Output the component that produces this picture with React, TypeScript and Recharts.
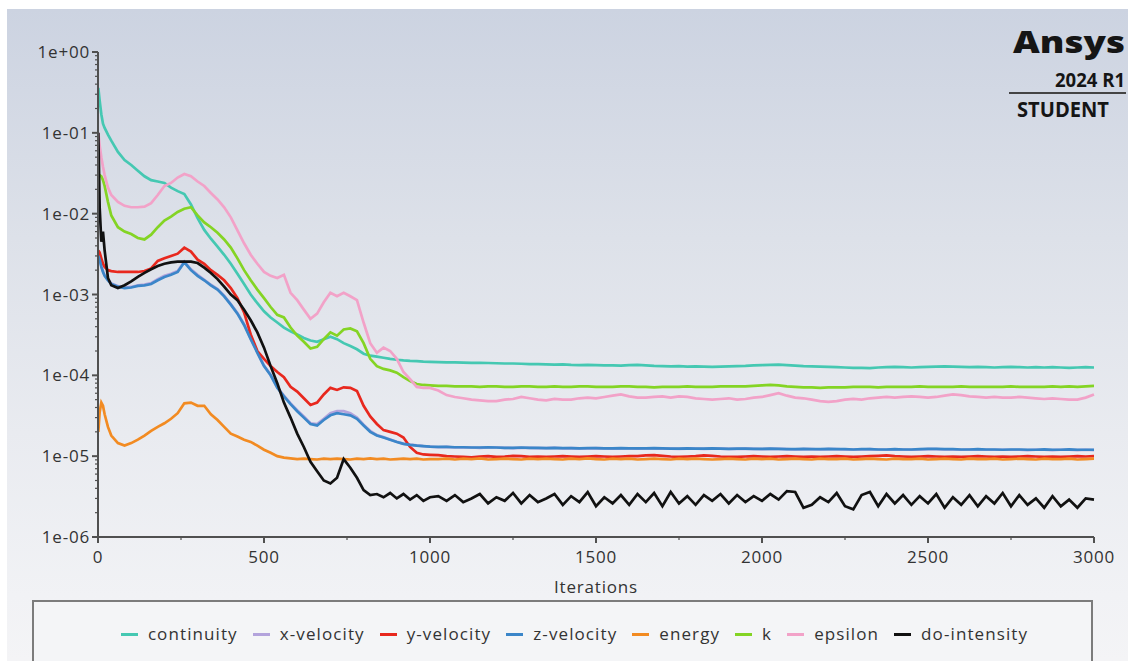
import { Line, LineChart, XAxis, YAxis } from "recharts";

// iteration numbers where the residuals were sampled
const iterations = [
  1, 5, 10, 15, 20, 30, 40,
  60, 80, 100, 120, 140, 160, 180, 200, 220, 240,
  260, 280, 300, 320, 340, 360, 380, 400, 420, 440,
  460, 480, 500, 520, 540, 560, 580, 600, 620, 640,
  660, 680, 700, 720, 740, 760, 780, 800, 820, 840,
  860, 880, 900, 920, 940, 960, 980, 1000,
  1025, 1050, 1075, 1100, 1125, 1150, 1175, 1200, 1225, 1250, 1275, 1300,
  1325, 1350, 1375, 1400, 1425, 1450, 1475, 1500, 1525, 1550, 1575, 1600,
  1625, 1650, 1675, 1700, 1725, 1750, 1775, 1800, 1825, 1850, 1875, 1900,
  1925, 1950, 1975, 2000, 2025, 2050, 2075, 2100, 2125, 2150, 2175, 2200,
  2225, 2250, 2275, 2300, 2325, 2350, 2375, 2400, 2425, 2450, 2475, 2500,
  2525, 2550, 2575, 2600, 2625, 2650, 2675, 2700, 2725, 2750, 2775, 2800,
  2825, 2850, 2875, 2900, 2925, 2950, 2975, 3000,
];

const continuity = [
  3.6e-1, 2.5e-1, 1.7e-1, 1.3e-1, 1.15e-1, 9.5e-2, 8.0e-2,
  5.8e-2, 4.6e-2, 4.0e-2, 3.4e-2, 2.9e-2, 2.6e-2, 2.5e-2, 2.4e-2, 2.1e-2, 1.9e-2,
  1.75e-2, 1.3e-2, 8.8e-3, 6.3e-3, 4.9e-3, 3.9e-3, 3.1e-3, 2.4e-3, 1.8e-3, 1.35e-3,
  1.0e-3, 7.8e-4, 6.2e-4, 5.2e-4, 4.5e-4, 3.9e-4, 3.5e-4, 3.2e-4, 2.9e-4, 2.7e-4,
  2.6e-4, 2.8e-4, 3.0e-4, 2.8e-4, 2.5e-4, 2.3e-4, 2.1e-4, 1.85e-4, 1.75e-4, 1.7e-4,
  1.65e-4, 1.6e-4, 1.56e-4, 1.53e-4, 1.51e-4, 1.5e-4, 1.48e-4, 1.47e-4,
  1.46e-4, 1.45e-4, 1.45e-4, 1.44e-4, 1.43e-4, 1.43e-4, 1.42e-4, 1.41e-4, 1.4e-4, 1.4e-4, 1.39e-4, 1.38e-4,
  1.38e-4, 1.37e-4, 1.36e-4, 1.37e-4, 1.35e-4, 1.34e-4, 1.35e-4, 1.34e-4, 1.33e-4, 1.33e-4, 1.32e-4, 1.34e-4,
  1.35e-4, 1.33e-4, 1.31e-4, 1.3e-4, 1.29e-4, 1.3e-4, 1.28e-4, 1.29e-4, 1.28e-4, 1.27e-4, 1.28e-4, 1.29e-4,
  1.3e-4, 1.31e-4, 1.33e-4, 1.34e-4, 1.35e-4, 1.36e-4, 1.34e-4, 1.32e-4, 1.3e-4, 1.29e-4, 1.28e-4, 1.27e-4,
  1.26e-4, 1.25e-4, 1.24e-4, 1.24e-4, 1.23e-4, 1.25e-4, 1.26e-4, 1.27e-4, 1.26e-4, 1.25e-4, 1.26e-4, 1.27e-4,
  1.28e-4, 1.29e-4, 1.28e-4, 1.27e-4, 1.26e-4, 1.27e-4, 1.26e-4, 1.25e-4, 1.26e-4, 1.27e-4, 1.26e-4, 1.25e-4,
  1.26e-4, 1.25e-4, 1.26e-4, 1.25e-4, 1.24e-4, 1.25e-4, 1.26e-4, 1.25e-4,
];

const xVelocity = [
  3.1e-3, 2.75e-3, 2.25e-3, 1.95e-3, 1.72e-3, 1.52e-3, 1.37e-3,
  1.27e-3, 1.22e-3, 1.24e-3, 1.3e-3, 1.33e-3, 1.38e-3, 1.55e-3, 1.7e-3, 1.8e-3, 1.95e-3,
  2.55e-3, 2.05e-3, 1.75e-3, 1.52e-3, 1.32e-3, 1.17e-3, 9.7e-4, 7.6e-4, 5.9e-4, 4.3e-4,
  2.85e-4, 1.95e-4, 1.32e-4, 1.02e-4, 7.1e-5, 5.6e-5, 4.5e-5, 3.7e-5, 3.1e-5, 2.55e-5,
  2.5e-5, 2.9e-5, 3.4e-5, 3.6e-5, 3.6e-5, 3.4e-5, 3.0e-5, 2.45e-5, 2.05e-5, 1.82e-5,
  1.72e-5, 1.61e-5, 1.51e-5, 1.43e-5, 1.39e-5, 1.36e-5, 1.33e-5, 1.31e-5,
  1.29e-5, 1.3e-5, 1.28e-5, 1.29e-5, 1.28e-5, 1.27e-5, 1.28e-5, 1.28e-5, 1.27e-5, 1.26e-5, 1.27e-5, 1.27e-5,
  1.26e-5, 1.26e-5, 1.27e-5, 1.25e-5, 1.26e-5, 1.25e-5, 1.25e-5, 1.26e-5, 1.25e-5, 1.24e-5, 1.25e-5, 1.25e-5,
  1.24e-5, 1.25e-5, 1.25e-5, 1.24e-5, 1.24e-5, 1.23e-5, 1.24e-5, 1.24e-5, 1.23e-5, 1.24e-5, 1.24e-5, 1.23e-5,
  1.23e-5, 1.24e-5, 1.23e-5, 1.22e-5, 1.23e-5, 1.23e-5, 1.22e-5, 1.21e-5, 1.22e-5, 1.22e-5, 1.21e-5, 1.22e-5,
  1.22e-5, 1.21e-5, 1.21e-5, 1.21e-5, 1.22e-5, 1.21e-5, 1.2e-5, 1.21e-5, 1.21e-5, 1.2e-5, 1.21e-5, 1.22e-5,
  1.22e-5, 1.21e-5, 1.21e-5, 1.2e-5, 1.21e-5, 1.21e-5, 1.2e-5, 1.2e-5, 1.2e-5, 1.2e-5, 1.2e-5, 1.19e-5,
  1.2e-5, 1.2e-5, 1.19e-5, 1.2e-5, 1.2e-5, 1.19e-5, 1.2e-5, 1.19e-5,
];

const yVelocity = [
  3.5e-3, 3.3e-3, 2.8e-3, 2.4e-3, 2.2e-3, 2.0e-3, 1.95e-3,
  1.9e-3, 1.9e-3, 1.9e-3, 1.9e-3, 1.95e-3, 2.1e-3, 2.6e-3, 2.8e-3, 3.0e-3, 3.2e-3,
  3.8e-3, 3.4e-3, 2.7e-3, 2.4e-3, 2.0e-3, 1.75e-3, 1.5e-3, 1.2e-3, 9.0e-4, 6.0e-4,
  3.2e-4, 2.0e-4, 1.6e-4, 1.3e-4, 1.1e-4, 9.5e-5, 7.2e-5, 6.3e-5, 5.2e-5, 4.3e-5,
  4.6e-5, 5.8e-5, 7.0e-5, 6.6e-5, 7.1e-5, 7.0e-5, 6.4e-5, 4.2e-5, 3.1e-5, 2.5e-5,
  2.1e-5, 2.0e-5, 1.9e-5, 1.7e-5, 1.3e-5, 1.1e-5, 1.05e-5, 1.04e-5,
  1.03e-5, 1.0e-5, 9.9e-6, 9.8e-6, 9.7e-6, 9.9e-6, 1.0e-5, 9.8e-6, 9.9e-6, 1.01e-5, 1.0e-5, 9.8e-6,
  9.9e-6, 9.8e-6, 9.9e-6, 1.0e-5, 9.9e-6, 9.8e-6, 9.9e-6, 1.0e-5, 9.9e-6, 9.8e-6, 9.9e-6, 1.0e-5,
  1.0e-5, 1.02e-5, 1.03e-5, 1.01e-5, 9.9e-6, 9.8e-6, 9.9e-6, 1.0e-5, 1.02e-5, 1.01e-5, 9.9e-6, 9.8e-6,
  9.8e-6, 9.9e-6, 1.0e-5, 9.9e-6, 9.8e-6, 9.9e-6, 1.0e-5, 9.9e-6, 9.8e-6, 9.9e-6, 9.8e-6, 9.9e-6,
  1.0e-5, 9.9e-6, 9.8e-6, 9.9e-6, 1.0e-5, 1.01e-5, 1.02e-5, 1.0e-5, 9.9e-6, 9.8e-6, 9.9e-6, 1.0e-5,
  9.9e-6, 9.8e-6, 9.9e-6, 9.8e-6, 9.9e-6, 1.0e-5, 9.9e-6, 9.8e-6, 9.9e-6, 9.8e-6, 9.9e-6, 1.0e-5,
  9.9e-6, 9.8e-6, 9.9e-6, 9.8e-6, 9.9e-6, 1.0e-5, 9.9e-6, 1.0e-5,
];

const zVelocity = [
  3.0e-3, 2.7e-3, 2.2e-3, 1.9e-3, 1.7e-3, 1.5e-3, 1.35e-3,
  1.25e-3, 1.2e-3, 1.22e-3, 1.28e-3, 1.3e-3, 1.35e-3, 1.5e-3, 1.65e-3, 1.75e-3, 1.9e-3,
  2.5e-3, 2.0e-3, 1.7e-3, 1.5e-3, 1.3e-3, 1.15e-3, 9.5e-4, 7.5e-4, 5.8e-4, 4.2e-4,
  2.8e-4, 1.9e-4, 1.3e-4, 1.0e-4, 7.0e-5, 5.5e-5, 4.4e-5, 3.6e-5, 3.0e-5, 2.5e-5,
  2.4e-5, 2.8e-5, 3.2e-5, 3.4e-5, 3.3e-5, 3.2e-5, 2.9e-5, 2.4e-5, 2.0e-5, 1.8e-5,
  1.7e-5, 1.6e-5, 1.5e-5, 1.42e-5, 1.38e-5, 1.35e-5, 1.33e-5, 1.31e-5,
  1.3e-5, 1.3e-5, 1.29e-5, 1.29e-5, 1.28e-5, 1.28e-5, 1.29e-5, 1.28e-5, 1.27e-5, 1.27e-5, 1.28e-5, 1.27e-5,
  1.27e-5, 1.26e-5, 1.27e-5, 1.26e-5, 1.26e-5, 1.25e-5, 1.26e-5, 1.26e-5, 1.25e-5, 1.25e-5, 1.26e-5, 1.25e-5,
  1.25e-5, 1.25e-5, 1.26e-5, 1.25e-5, 1.24e-5, 1.24e-5, 1.25e-5, 1.24e-5, 1.24e-5, 1.25e-5, 1.24e-5, 1.23e-5,
  1.24e-5, 1.24e-5, 1.23e-5, 1.23e-5, 1.24e-5, 1.23e-5, 1.22e-5, 1.22e-5, 1.23e-5, 1.22e-5, 1.22e-5, 1.23e-5,
  1.22e-5, 1.22e-5, 1.21e-5, 1.22e-5, 1.22e-5, 1.21e-5, 1.21e-5, 1.22e-5, 1.21e-5, 1.21e-5, 1.22e-5, 1.23e-5,
  1.23e-5, 1.22e-5, 1.22e-5, 1.21e-5, 1.21e-5, 1.22e-5, 1.21e-5, 1.21e-5, 1.2e-5, 1.21e-5, 1.21e-5, 1.2e-5,
  1.2e-5, 1.21e-5, 1.2e-5, 1.2e-5, 1.21e-5, 1.2e-5, 1.2e-5, 1.2e-5,
];

const energy = [
  2.0e-5, 3.5e-5, 4.6e-5, 4.2e-5, 3.3e-5, 2.3e-5, 1.8e-5,
  1.45e-5, 1.35e-5, 1.45e-5, 1.6e-5, 1.8e-5, 2.05e-5, 2.3e-5, 2.55e-5, 2.9e-5, 3.4e-5,
  4.5e-5, 4.6e-5, 4.2e-5, 4.2e-5, 3.3e-5, 2.8e-5, 2.3e-5, 1.9e-5, 1.75e-5, 1.6e-5,
  1.5e-5, 1.35e-5, 1.2e-5, 1.1e-5, 1.0e-5, 9.6e-6, 9.4e-6, 9.2e-6, 9.3e-6, 9.2e-6,
  9.1e-6, 9.3e-6, 9.2e-6, 9.3e-6, 9.2e-6, 9.1e-6, 9.3e-6, 9.2e-6, 9.4e-6, 9.2e-6,
  9.3e-6, 9.1e-6, 9.2e-6, 9.3e-6, 9.2e-6, 9.3e-6, 9.1e-6, 9.2e-6,
  9.2e-6, 9.3e-6, 9.1e-6, 9.3e-6, 9.2e-6, 9.4e-6, 9.1e-6, 9.2e-6, 9.3e-6, 9.2e-6, 9.1e-6, 9.3e-6,
  9.2e-6, 9.3e-6, 9.2e-6, 9.1e-6, 9.3e-6, 9.2e-6, 9.4e-6, 9.2e-6, 9.1e-6, 9.3e-6, 9.2e-6, 9.3e-6,
  9.1e-6, 9.2e-6, 9.3e-6, 9.2e-6, 9.1e-6, 9.3e-6, 9.2e-6, 9.3e-6, 9.2e-6, 9.1e-6, 9.2e-6, 9.3e-6,
  9.2e-6, 9.1e-6, 9.3e-6, 9.2e-6, 9.3e-6, 9.1e-6, 9.2e-6, 9.3e-6, 9.2e-6, 9.1e-6, 9.3e-6, 9.2e-6,
  9.2e-6, 9.3e-6, 9.1e-6, 9.2e-6, 9.3e-6, 9.2e-6, 9.1e-6, 9.3e-6, 9.2e-6, 9.2e-6, 9.3e-6, 9.1e-6,
  9.2e-6, 9.3e-6, 9.2e-6, 9.1e-6, 9.3e-6, 9.2e-6, 9.2e-6, 9.3e-6, 9.1e-6, 9.2e-6, 9.3e-6, 9.2e-6,
  9.1e-6, 9.3e-6, 9.2e-6, 9.2e-6, 9.3e-6, 9.1e-6, 9.2e-6, 9.3e-6,
];

const kResidual = [
  3.0e-2, 3.0e-2, 2.9e-2, 2.6e-2, 2.2e-2, 1.4e-2, 9.5e-3,
  6.8e-3, 6.0e-3, 5.6e-3, 5.0e-3, 4.8e-3, 5.5e-3, 6.8e-3, 8.2e-3, 9.2e-3, 1.05e-2,
  1.15e-2, 1.2e-2, 9.5e-3, 7.8e-3, 6.8e-3, 5.8e-3, 4.8e-3, 3.8e-3, 2.8e-3, 2.0e-3,
  1.5e-3, 1.15e-3, 9.0e-4, 7.0e-4, 5.6e-4, 5.2e-4, 3.9e-4, 3.1e-4, 2.6e-4, 2.15e-4,
  2.25e-4, 2.8e-4, 3.4e-4, 3.1e-4, 3.7e-4, 3.8e-4, 3.5e-4, 2.5e-4, 1.6e-4, 1.3e-4,
  1.2e-4, 1.15e-4, 1.08e-4, 9.5e-5, 8.5e-5, 7.8e-5, 7.6e-5, 7.5e-5,
  7.4e-5, 7.4e-5, 7.3e-5, 7.3e-5, 7.3e-5, 7.2e-5, 7.3e-5, 7.3e-5, 7.2e-5, 7.2e-5, 7.3e-5, 7.3e-5,
  7.2e-5, 7.2e-5, 7.3e-5, 7.2e-5, 7.2e-5, 7.3e-5, 7.3e-5, 7.2e-5, 7.2e-5, 7.2e-5, 7.3e-5, 7.3e-5,
  7.2e-5, 7.2e-5, 7.1e-5, 7.2e-5, 7.2e-5, 7.2e-5, 7.3e-5, 7.2e-5, 7.2e-5, 7.2e-5, 7.3e-5, 7.3e-5,
  7.3e-5, 7.3e-5, 7.4e-5, 7.5e-5, 7.6e-5, 7.5e-5, 7.3e-5, 7.2e-5, 7.1e-5, 7.1e-5, 7.0e-5, 7.1e-5,
  7.1e-5, 7.1e-5, 7.2e-5, 7.2e-5, 7.2e-5, 7.1e-5, 7.2e-5, 7.2e-5, 7.2e-5, 7.2e-5, 7.3e-5, 7.2e-5,
  7.2e-5, 7.2e-5, 7.2e-5, 7.3e-5, 7.2e-5, 7.2e-5, 7.2e-5, 7.2e-5, 7.2e-5, 7.3e-5, 7.2e-5, 7.2e-5,
  7.2e-5, 7.2e-5, 7.3e-5, 7.2e-5, 7.3e-5, 7.2e-5, 7.3e-5, 7.4e-5,
];

const epsilon = [
  1.0e-1, 7.0e-2, 5.0e-2, 3.8e-2, 3.0e-2, 2.1e-2, 1.7e-2,
  1.4e-2, 1.25e-2, 1.2e-2, 1.2e-2, 1.22e-2, 1.35e-2, 1.7e-2, 2.2e-2, 2.4e-2, 2.8e-2,
  3.1e-2, 2.9e-2, 2.5e-2, 2.2e-2, 1.8e-2, 1.5e-2, 1.2e-2, 9.0e-3, 6.2e-3, 4.3e-3,
  3.1e-3, 2.4e-3, 1.9e-3, 1.7e-3, 1.6e-3, 1.75e-3, 1.05e-3, 8.5e-4, 6.5e-4, 5.0e-4,
  5.8e-4, 8.0e-4, 1.05e-3, 9.5e-4, 1.05e-3, 9.5e-4, 8.5e-4, 4.5e-4, 2.5e-4, 1.9e-4,
  2.2e-4, 2.0e-4, 1.6e-4, 1.1e-4, 9.0e-5, 7.2e-5, 7.0e-5, 7.0e-5,
  6.5e-5, 5.7e-5, 5.4e-5, 5.2e-5, 5.0e-5, 4.9e-5, 4.8e-5, 4.8e-5, 5.0e-5, 5.1e-5, 5.4e-5, 5.2e-5,
  5.0e-5, 4.9e-5, 5.1e-5, 5.0e-5, 5.0e-5, 5.2e-5, 5.3e-5, 5.2e-5, 5.4e-5, 5.6e-5, 5.8e-5, 5.5e-5,
  5.3e-5, 5.3e-5, 5.4e-5, 5.5e-5, 5.3e-5, 5.5e-5, 5.4e-5, 5.2e-5, 5.1e-5, 5.0e-5, 5.1e-5, 5.2e-5,
  5.0e-5, 5.1e-5, 5.3e-5, 5.4e-5, 5.7e-5, 6.0e-5, 5.6e-5, 5.3e-5, 5.2e-5, 5.0e-5, 4.8e-5, 4.7e-5,
  4.8e-5, 5.0e-5, 5.1e-5, 5.0e-5, 5.2e-5, 5.3e-5, 5.4e-5, 5.3e-5, 5.4e-5, 5.5e-5, 5.4e-5, 5.3e-5,
  5.4e-5, 5.6e-5, 5.8e-5, 5.7e-5, 5.5e-5, 5.4e-5, 5.3e-5, 5.4e-5, 5.3e-5, 5.3e-5, 5.4e-5, 5.3e-5,
  5.2e-5, 5.1e-5, 5.2e-5, 5.1e-5, 5.0e-5, 5.0e-5, 5.3e-5, 5.8e-5,
];

const doIntensity = [
  1.0e-1, 1.2e-2, 4.5e-3, 6.0e-3, 3.5e-3, 1.6e-3, 1.3e-3,
  1.2e-3, 1.3e-3, 1.45e-3, 1.65e-3, 1.85e-3, 2.05e-3, 2.25e-3, 2.4e-3, 2.5e-3, 2.55e-3,
  2.55e-3, 2.55e-3, 2.45e-3, 2.15e-3, 1.85e-3, 1.55e-3, 1.25e-3, 1.0e-3, 8.5e-4, 6.5e-4,
  4.8e-4, 3.4e-4, 2.2e-4, 1.3e-4, 8.0e-5, 4.6e-5, 3.0e-5, 1.9e-5, 1.3e-5, 8.5e-6,
  6.5e-6, 5.0e-6, 4.6e-6, 5.4e-6, 9.2e-6, 7.2e-6, 5.4e-6, 3.8e-6, 3.3e-6, 3.4e-6,
  3.1e-6, 3.5e-6, 3.0e-6, 3.4e-6, 2.9e-6, 3.3e-6, 2.8e-6, 3.1e-6,
  3.2e-6, 2.8e-6, 3.3e-6, 2.7e-6, 3.0e-6, 3.4e-6, 2.6e-6, 3.1e-6, 2.8e-6, 3.5e-6, 2.6e-6, 3.3e-6,
  2.7e-6, 3.0e-6, 3.4e-6, 2.5e-6, 3.2e-6, 2.7e-6, 3.6e-6, 2.4e-6, 3.1e-6, 2.6e-6, 3.3e-6, 2.5e-6,
  3.4e-6, 2.7e-6, 3.5e-6, 2.4e-6, 3.6e-6, 2.6e-6, 3.2e-6, 2.5e-6, 3.3e-6, 2.8e-6, 3.4e-6, 2.6e-6,
  3.3e-6, 2.7e-6, 3.2e-6, 2.8e-6, 3.4e-6, 2.9e-6, 3.7e-6, 3.6e-6, 2.3e-6, 2.5e-6, 3.1e-6, 2.7e-6,
  3.5e-6, 2.4e-6, 2.2e-6, 3.3e-6, 3.6e-6, 2.4e-6, 3.4e-6, 2.6e-6, 3.3e-6, 2.5e-6, 3.2e-6, 2.6e-6,
  3.4e-6, 2.3e-6, 3.1e-6, 2.5e-6, 3.3e-6, 2.4e-6, 3.2e-6, 2.6e-6, 3.5e-6, 2.4e-6, 3.3e-6, 2.5e-6,
  3.0e-6, 2.3e-6, 3.2e-6, 2.4e-6, 2.9e-6, 2.3e-6, 3.0e-6, 2.9e-6,
];

const xTicks = [0, 250, 500, 750, 1000, 1250, 1500, 1750, 2000, 2250, 2500, 2750, 3000];
const xTickLabels = ["0", "500", "1000", "1500", "2000", "2500", "3000"];
const yMajorTicks = [1, 1e-1, 1e-2, 1e-3, 1e-4, 1e-5, 1e-6];
const yTickLabels = ["1e+00", "1e-01", "1e-02", "1e-03", "1e-04", "1e-05", "1e-06"];
// minor log ticks 2..9 inside each decade
const yMinorTicks = yMajorTicks.slice(1).flatMap((d) => [2, 3, 4, 5, 6, 7, 8, 9].map((m) => m * d));

const series = [
  { key: "continuity", name: "continuity", color: "#45c8b2", values: continuity },
  { key: "xVelocity", name: "x-velocity", color: "#b3a3dc", values: xVelocity },
  { key: "yVelocity", name: "y-velocity", color: "#e8281e", values: yVelocity },
  { key: "zVelocity", name: "z-velocity", color: "#3b86c9", values: zVelocity },
  { key: "energy", name: "energy", color: "#f28b22", values: energy },
  { key: "k", name: "k", color: "#84d424", values: kResidual },
  { key: "epsilon", name: "epsilon", color: "#f2a2c8", values: epsilon },
  { key: "doIntensity", name: "do-intensity", color: "#111111", values: doIntensity },
];

const rows = iterations.map((it, i) => {
  const row: Record<string, number> = { it };
  series.forEach((s) => (row[s.key] = s.values[i]));
  return row;
});

const axisColor = "#505050";
const textColor = "#333";
const font = "'Open Sans', 'Noto Sans', sans-serif";

function YTick(props: any) {
  const { x, y, payload } = props;
  const i = yMajorTicks.indexOf(payload.value);
  if (i < 0) {
    return <line x1={x - 3} x2={x} y1={y} y2={y} stroke={axisColor} strokeWidth={1.2} />;
  }
  return (
    <g>
      <line x1={x - 6} x2={x} y1={y} y2={y} stroke={axisColor} strokeWidth={2} />
      <text
        x={x - 8}
        y={y}
        dy="0.36em"
        textAnchor="end"
        fill={textColor}
        fontSize={17}
        fontFamily={font}
        letterSpacing={0.8}
      >
        {yTickLabels[i]}
      </text>
    </g>
  );
}

function XTick(props: any) {
  const { x, y, payload } = props;
  const v = payload.value as number;
  if (v % 500 !== 0) {
    return <line x1={x} x2={x} y1={y} y2={y + 3} stroke={axisColor} strokeWidth={1.2} />;
  }
  return (
    <g>
      <line x1={x} x2={x} y1={y} y2={y + 6} stroke={axisColor} strokeWidth={2} />
      <text
        x={x}
        y={y + 20}
        dy="0.36em"
        textAnchor="middle"
        fill={textColor}
        fontSize={17}
        fontFamily={font}
        letterSpacing={0.8}
      >
        {xTickLabels[v / 500]}
      </text>
    </g>
  );
}

export default function App() {
  return (
    <div
      style={{
        position: "absolute",
        left: 0,
        top: 0,
        width: 1128,
        height: 661,
        overflow: "hidden",
        background: "#ffffff",
        fontFamily: font,
      }}
    >
      <div
        style={{
          position: "absolute",
          left: 7,
          top: 9,
          right: 0,
          bottom: 0,
          background: "linear-gradient(180deg, #ccd3e1 0%, #dde1e9 35%, #e9ebf0 65%, #f1f2f5 90%, #f4f4f6 100%)",
        }}
      />
      <div style={{ position: "absolute", left: 0, top: 0 }}>
        <LineChart width={1128} height={661} data={rows} margin={{ top: 52, right: 34, bottom: 64, left: 8 }}>
          <XAxis
            dataKey="it"
            type="number"
            domain={[0, 3000]}
            ticks={xTicks}
            interval={0}
            height={60}
            tickSize={0}
            tickMargin={0}
            tick={XTick}
            axisLine={{ stroke: axisColor, strokeWidth: 2 }}
            label={{ value: "Iterations", position: "insideBottom", offset: 4, fill: textColor, fontSize: 17, fontFamily: font, letterSpacing: 0.8 }}
          />
          <YAxis
            type="number"
            scale="log"
            domain={[1e-6, 1]}
            allowDataOverflow
            ticks={[...yMajorTicks, ...yMinorTicks]}
            interval={0}
            width={90}
            tickSize={0}
            tickMargin={0}
            tick={YTick}
            axisLine={{ stroke: axisColor, strokeWidth: 2 }}
          />
          {series.map((s) => (
            <Line
              key={s.key}
              dataKey={s.key}
              name={s.name}
              stroke={s.color}
              strokeWidth={2.7}
              dot={false}
              type="linear"
              isAnimationActive={false}
            />
          ))}
        </LineChart>
      </div>

      <svg width={1128} height={130} style={{ position: "absolute", left: 0, top: 0 }}>
        <text x={1013} y={53} fontSize={30} fontWeight={800} fontFamily={font} fill="#151515" textLength={112} lengthAdjust="spacingAndGlyphs">
          Ansys
        </text>
        <text x={1055} y={87} fontSize={19} fontWeight={700} fontFamily={font} fill="#151515" textLength={70} lengthAdjust="spacingAndGlyphs">
          2024 R1
        </text>
        <line x1={1009} x2={1126} y1={93} y2={93} stroke="#444" strokeWidth={2} />
        <text x={1017} y={117} fontSize={21} fontWeight={700} fontFamily={font} fill="#151515" textLength={92} lengthAdjust="spacingAndGlyphs">
          STUDENT
        </text>
      </svg>

      <div
        style={{
          position: "absolute",
          left: 32,
          top: 600,
          width: 1061,
          height: 90,
          border: "2px solid #7c7c7c",
          boxSizing: "border-box",
          background: "#f4f5f7",
        }}
      >
        <div
          style={{
            position: "absolute",
            top: 21,
            left: 24,
            right: 0,
            display: "flex",
            justifyContent: "center",
            gap: 15,
            fontSize: 17,
            letterSpacing: 1.1,
            color: textColor,
            lineHeight: "22px",
          }}
        >
          {series.map((s) => (
            <div key={s.key} style={{ display: "flex", alignItems: "center" }}>
              <span style={{ display: "inline-block", width: 17, height: 3, background: s.color, marginRight: 10 }} />
              <span>{s.name}</span>
            </div>
          ))}
        </div>
      </div>
    </div>
  );
}
